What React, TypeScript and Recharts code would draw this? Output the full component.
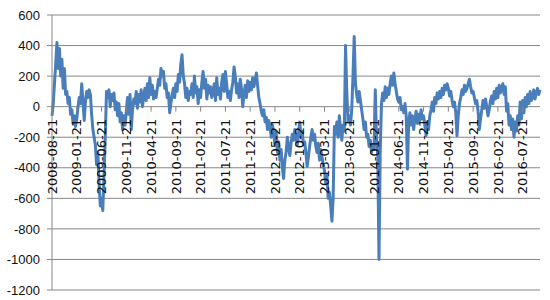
import React from "react";
import { LineChart, Line, XAxis, YAxis, CartesianGrid } from "recharts";

// Weekly samples from 2008-08-21 onwards (4 per month)
const START_YEAR = 2008;
const START_MONTH = 8;

const VALUES: number[] = [
  -60, 20, 150, 280, 420, 250, 380, 200, 310, 120, 250, 80, 100, 20, 60, -50, -20, -110, -60, -130,
  -80, 0, 60, 20, 150, 40, -90, 30, 100, 60, 110, 80, -50, -150, -200, -250, -380, -300, -500, -650,
  -600, -680, -450, -200, 100, 60, 110, 0, 80, 40, 90, -20, 30, -60, 20, -100, -40, -150, -60, -120,
  -30, 60, -50, 80, -150, -20, 50, 20, 100, -10, 80, 30, 110, 0, 60, 120, 40, 150, 60, 190,
  80, 140, 50, 100, 60, 120, 180, 140, 250, 200, 230, 120, 150, 60, 90, -40, 20, 80, 120, 60,
  150, 100, 210, 160, 280, 340, 200, 150, 60, 120, 40, 100, 80, 150, 60, 200, 90, 130, 20, 110,
  60, 160, 230, 120, 180, 50, 140, 90, 130, 60, 100, 150, 40, 190, 80, 120, 50, 160, 210, 100,
  230, 150, 60, 100, 40, 110, 160, 260, 200, 90, 150, 60, 180, 120, 0, 80, 140, 60, 170, 100,
  160, 110, 190, 130, 170, 220, 140, 60, 20, -30, -60, -20, -100, -70, -150, -90, -130, -200, -120, -180,
  -250, -160, -300, -230, -350, -280, -400, -470, -350, -300, -200, -260, -320, -240, -180, -220, -150, -200, -250, -180,
  -100, -200, -160, -250, -230, -300, -390, -330, -260, -200, -150, -220, -180, -260, -300, -240, -350, -280, -330, -380,
  -420, -500, -450, -600, -560, -650, -750, -600, -130, -180, -100, -200, -60, -150, -220, -120, -160, 400, 100, -100,
  -60, -120, -20, 200, 460, 150, 80, 30, 100, 40, -20, -80, -150, -100, -200, -180, -260, -220, -300, -250,
  -280, 110, -200, -320, -1000, -300, 20, 90, 40, 130, 60, 120, 80, 150, 200, 140, 220, 150, 100, 50,
  30, 60, -20, 0, -40, 20, -60, -410, -100, -40, -120, -60, -150, -80, -30, -110, -50, -90, -20, -80,
  -60, -120, -190, -100, -150, -60, -20, 30, -30, 60, 20, 90, 50, 100, 60, 120, 80, 140, 110, 150,
  120, 70, 100, 40, 0, 30, -40, -190, -60, 20, 60, 110, 80, 140, 100, 120, 150, 180, 130, 90,
  100, 60, 20, 40, -30, -150, -80, -20, 40, -10, 50, 0, -60, -20, 40, 70, 20, 100, 50, 120,
  60, 140, 90, 120, 150, 80, 130, -30, 20, -120, -60, -150, -80, -200, -100, -160, -60, -120, 30, -80,
  40, -40, 60, 0, 80, 20, 100, 40, 60, 110, 50, 90, 120, 80, 110,
];

const DAYS_IN_MONTH_SLOTS = [21, 28, 5, 13];

const Y_TICKS = [-1200, -1000, -800, -600, -400, -200, 0, 200, 400, 600];
const Y_MIN = -1200;
const Y_MAX = 600;

const pad = (n: number) => (n < 10 ? "0" + n : "" + n);

const DATES: string[] = VALUES.map((_, i) => {
  const slot = i % 4;
  const monthOffset = Math.floor(i / 4) + (slot >= 2 ? 1 : 0);
  const total = START_MONTH - 1 + monthOffset;
  const y = START_YEAR + Math.floor(total / 12);
  const m = (total % 12) + 1;
  return `${y}-${pad(m)}-${pad(DAYS_IN_MONTH_SLOTS[slot])}`;
});

const data = VALUES.map((v, i) => ({ date: DATES[i], value: v }));

const WIDTH = 550;
const HEIGHT = 300;
const MARGIN = { top: 15, right: 10, bottom: 9, left: 0 };
const X_AXIS_H = 1;
const PLOT_H = HEIGHT - MARGIN.top - MARGIN.bottom - X_AXIS_H;
const ZERO_Y = MARGIN.top + (PLOT_H * (Y_MAX - 0)) / (Y_MAX - Y_MIN);

const AXIS_COLOR = "#868686";
const LINE_COLOR = "#4A7EBB";

const XTick = (props: any) => {
  const { x, payload } = props;
  return (
    <g transform={`translate(${x},${ZERO_Y})`}>
      <line x1={0} y1={0} x2={0} y2={5} stroke={AXIS_COLOR} strokeWidth={1} />
      <text
        transform="rotate(-90)"
        x={-12}
        y={0}
        dy="0.36em"
        textAnchor="end"
        fontFamily="DejaVu Sans"
        fontSize={13}
        fill="#111"
      >
        {payload.value}
      </text>
    </g>
  );
};

export default function App() {
  return (
    <div style={{ position: "absolute", left: 0, top: 0, background: "#fff" }}>
      <LineChart width={WIDTH} height={HEIGHT} data={data} margin={MARGIN}>
        <CartesianGrid vertical={false} stroke={AXIS_COLOR} strokeWidth={1} />
        <YAxis
          domain={[Y_MIN, Y_MAX]}
          ticks={Y_TICKS}
          width={52}
          interval={0}
          tickSize={5}
          tickMargin={7}
          axisLine={{ stroke: AXIS_COLOR }}
          tickLine={{ stroke: AXIS_COLOR }}
          tick={{ fill: "#111", fontSize: 13, fontFamily: "Liberation Sans" }}
        />
        <XAxis
          dataKey="date"
          interval={19}
          height={X_AXIS_H}
          axisLine={false}
          tickLine={false}
          tick={<XTick />}
        />
        <Line
          type="linear"
          dataKey="value"
          stroke={LINE_COLOR}
          strokeWidth={3}
          strokeLinejoin="round"
          dot={false}
          isAnimationActive={false}
        />
      </LineChart>
    </div>
  );
}
